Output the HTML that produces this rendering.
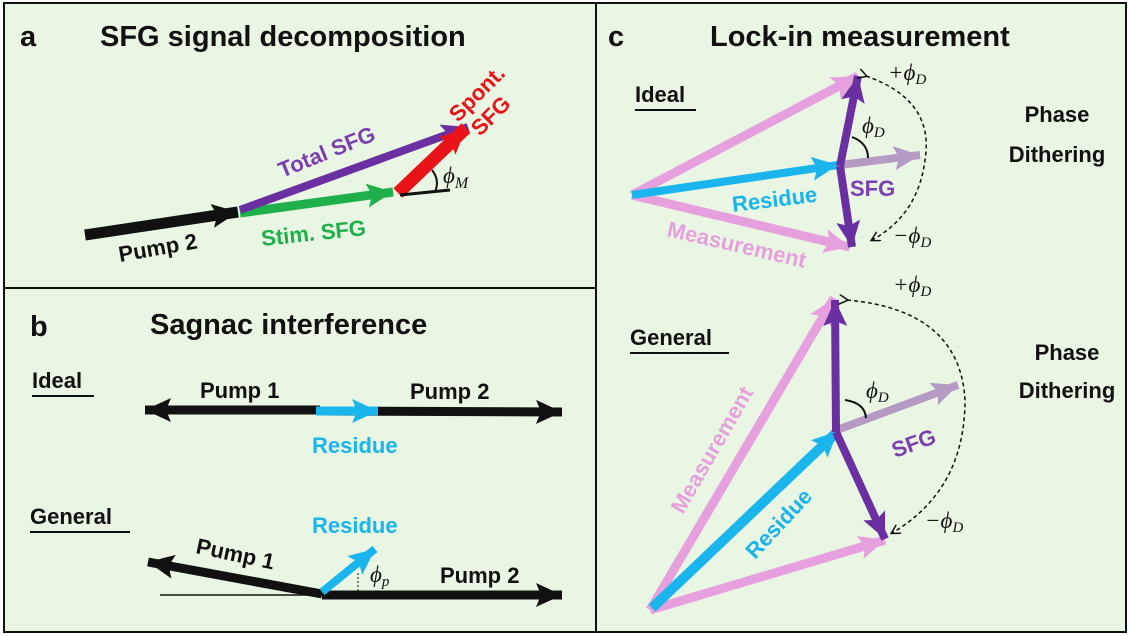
<!DOCTYPE html>
<html><head><meta charset="utf-8"><style>
html,body{margin:0;padding:0;background:#fff}
svg{display:block}
text{font-family:"Liberation Sans",sans-serif}
.t{font-size:29px;fill:#111;font-weight:bold}
.lb{font-size:22px;font-weight:bold}
.m{font-family:"Liberation Serif",serif;font-style:italic;font-size:23px;fill:#111}
</style></head><body>
<svg width="1130" height="636" viewBox="0 0 1130 636" xmlns="http://www.w3.org/2000/svg">
<defs>
<marker id="hk" markerUnits="userSpaceOnUse" markerWidth="34" markerHeight="34" refX="26" refY="12" orient="auto"><path d="M0,0 L26,12 L0,24 L5,12Z" fill="#111"/></marker>
<marker id="hg" markerUnits="userSpaceOnUse" markerWidth="34" markerHeight="34" refX="26" refY="12" orient="auto"><path d="M0,0 L26,12 L0,24 L5,12Z" fill="#1fb04c"/></marker>
<marker id="hp" markerUnits="userSpaceOnUse" markerWidth="34" markerHeight="34" refX="26" refY="12" orient="auto"><path d="M0,0 L26,12 L0,24 L5,12Z" fill="#6a2fa0"/></marker>
<marker id="hr" markerUnits="userSpaceOnUse" markerWidth="34" markerHeight="34" refX="26" refY="12" orient="auto"><path d="M0,0 L26,12 L0,24 L5,12Z" fill="#e8141a"/></marker>
<marker id="hc" markerUnits="userSpaceOnUse" markerWidth="34" markerHeight="34" refX="26" refY="12" orient="auto"><path d="M0,0 L26,12 L0,24 L5,12Z" fill="#19b5ec"/></marker>
<marker id="hpk" markerUnits="userSpaceOnUse" markerWidth="34" markerHeight="34" refX="26" refY="12" orient="auto"><path d="M0,0 L26,12 L0,24 L5,12Z" fill="#e7a0de"/></marker>
<marker id="hlp" markerUnits="userSpaceOnUse" markerWidth="34" markerHeight="34" refX="26" refY="12" orient="auto"><path d="M0,0 L26,12 L0,24 L5,12Z" fill="#b59ac4"/></marker>
<marker id="hd" markerUnits="userSpaceOnUse" markerWidth="12" markerHeight="12" refX="8" refY="5" orient="auto"><path d="M0,0 L9,5 L0,10" fill="none" stroke="#111" stroke-width="1.5"/></marker>
</defs>
<rect x="0" y="0" width="1130" height="636" fill="#fff"/>
<rect x="4" y="3" width="1122" height="629" fill="#eaf6e4" stroke="#111" stroke-width="2"/>
<line x1="596" y1="3" x2="596" y2="632" stroke="#111" stroke-width="2"/>
<line x1="4" y1="288" x2="596" y2="288" stroke="#111" stroke-width="2"/>

<!-- Panel a -->
<text x="20" y="46" class="t">a</text>
<text x="100" y="46" class="t">SFG signal decomposition</text>
<line x1="85" y1="235" x2="238" y2="212" stroke="#111" stroke-width="11" marker-end="url(#hk)"/>
<line x1="240" y1="213" x2="393" y2="192" stroke="#1fb04c" stroke-width="9" marker-end="url(#hg)"/>
<line x1="240" y1="210" x2="468" y2="127" stroke="#6a2fa0" stroke-width="8" marker-end="url(#hp)"/>
<line x1="398" y1="193" x2="466" y2="128" stroke="#e8141a" stroke-width="13" marker-end="url(#hr)"/>
<line x1="400" y1="195" x2="450" y2="190" stroke="#111" stroke-width="3"/>
<path d="M435,192 Q440,180 432,170" fill="none" stroke="#111" stroke-width="2"/>
<text x="443" y="183" class="m" font-size="24">ϕ<tspan font-size="16" dy="5">M</tspan></text>
<text transform="translate(120,262) rotate(-10)" class="lb" fill="#111">Pump 2</text>
<text transform="translate(282,178) rotate(-22)" class="lb" fill="#7b3fb0">Total SFG</text>
<text transform="translate(262,246) rotate(-6)" class="lb" fill="#1fb04c">Stim. SFG</text>
<text transform="translate(458,123) rotate(-45)" class="lb" fill="#e8141a">Spont.</text>
<text transform="translate(480,137) rotate(-45)" class="lb" fill="#e8141a">SFG</text>

<!-- Panel b -->
<text x="30" y="336" class="t">b</text>
<text x="150" y="334" class="t">Sagnac interference</text>
<text x="32" y="388" class="lb" fill="#111">Ideal</text>
<line x1="32" y1="396" x2="94" y2="396" stroke="#111" stroke-width="2"/>
<line x1="320" y1="410" x2="145" y2="410" stroke="#111" stroke-width="9" marker-end="url(#hk)"/>
<line x1="320" y1="411" x2="562" y2="412" stroke="#111" stroke-width="9" marker-end="url(#hk)"/>
<line x1="316" y1="411" x2="378" y2="411" stroke="#19b5ec" stroke-width="9" marker-end="url(#hc)"/>
<text x="200" y="398" class="lb" fill="#111">Pump 1</text>
<text x="410" y="399" class="lb" fill="#111">Pump 2</text>
<text x="312" y="453" class="lb" fill="#19b5ec">Residue</text>
<text x="30" y="524" class="lb" fill="#111">General</text>
<line x1="30" y1="532" x2="130" y2="532" stroke="#111" stroke-width="2"/>
<line x1="160" y1="595" x2="540" y2="595" stroke="#111" stroke-width="1.5"/>
<line x1="322" y1="594" x2="148" y2="562" stroke="#111" stroke-width="9" marker-end="url(#hk)"/>
<line x1="322" y1="595" x2="562" y2="595" stroke="#111" stroke-width="9" marker-end="url(#hk)"/>
<line x1="322" y1="592" x2="375" y2="549" stroke="#19b5ec" stroke-width="8" marker-end="url(#hc)"/>
<line x1="358" y1="573" x2="358" y2="592" stroke="#111" stroke-width="1" stroke-dasharray="2,2"/>
<text transform="translate(195,553) rotate(12)" class="lb" fill="#111">Pump 1</text>
<text x="440" y="583" class="lb" fill="#111">Pump 2</text>
<text x="312" y="533" class="lb" fill="#19b5ec">Residue</text>
<text x="370" y="582" class="m">ϕ<tspan font-size="15" dy="4">p</tspan></text>

<!-- Panel c -->
<text x="608" y="46" class="t">c</text>
<text x="710" y="46" class="t">Lock-in measurement</text>
<text x="635" y="102" class="lb" fill="#111">Ideal</text>
<line x1="635" y1="110" x2="696" y2="110" stroke="#111" stroke-width="2"/>
<line x1="632" y1="195" x2="858" y2="76" stroke="#e7a0de" stroke-width="9" marker-end="url(#hpk)"/>
<line x1="632" y1="195" x2="850" y2="247" stroke="#e7a0de" stroke-width="9" marker-end="url(#hpk)"/>
<line x1="840" y1="165" x2="920" y2="155" stroke="#b59ac4" stroke-width="8" marker-end="url(#hlp)"/>
<line x1="632" y1="195" x2="838" y2="165" stroke="#19b5ec" stroke-width="8" marker-end="url(#hc)"/>
<line x1="840" y1="166" x2="858" y2="76" stroke="#6a2fa0" stroke-width="8" marker-end="url(#hp)"/>
<line x1="840" y1="166" x2="852" y2="247" stroke="#6a2fa0" stroke-width="8" marker-end="url(#hp)"/>
<path d="M866,76 Q935,100 925,160 Q918,215 872,240" fill="none" stroke="#111" stroke-width="1.5" stroke-dasharray="4,3" marker-start="url(#hd)" marker-end="url(#hd)"/>
<path d="M852,137 Q868,143 868,158" fill="none" stroke="#111" stroke-width="2"/>
<text x="888" y="80" class="m">+ϕ<tspan font-size="15" dy="4">D</tspan></text>
<text x="862" y="133" class="m">ϕ<tspan font-size="15" dy="4">D</tspan></text>
<text x="893" y="243" class="m">−ϕ<tspan font-size="15" dy="4">D</tspan></text>
<text x="1057" y="122" class="lb" fill="#111" text-anchor="middle" font-size="25">Phase</text>
<text x="1057" y="162" class="lb" fill="#111" text-anchor="middle" font-size="25">Dithering</text>
<text transform="translate(733,212) rotate(-7)" class="lb" fill="#19b5ec" font-size="24">Residue</text>
<text x="850" y="196" class="lb" fill="#7b3fb0" font-size="24">SFG</text>
<text transform="translate(666,236) rotate(13)" class="lb" fill="#e7a0de" font-size="24">Measurement</text>

<text x="630" y="345" class="lb" fill="#111">General</text>
<line x1="630" y1="353" x2="729" y2="353" stroke="#111" stroke-width="2"/>
<line x1="650" y1="610" x2="834" y2="298" stroke="#e7a0de" stroke-width="9" marker-end="url(#hpk)"/>
<line x1="650" y1="610" x2="885" y2="540" stroke="#e7a0de" stroke-width="9" marker-end="url(#hpk)"/>
<line x1="837" y1="430" x2="958" y2="385" stroke="#b59ac4" stroke-width="8" marker-end="url(#hlp)"/>
<line x1="652" y1="608" x2="838" y2="431" stroke="#19b5ec" stroke-width="10" marker-end="url(#hc)"/>
<line x1="836" y1="432" x2="835" y2="300" stroke="#6a2fa0" stroke-width="8" marker-end="url(#hp)"/>
<line x1="836" y1="432" x2="885" y2="539" stroke="#6a2fa0" stroke-width="8" marker-end="url(#hp)"/>
<path d="M847,300 Q960,310 965,400 Q965,490 892,533" fill="none" stroke="#111" stroke-width="1.5" stroke-dasharray="4,3" marker-start="url(#hd)" marker-end="url(#hd)"/>
<path d="M845,400 Q865,403 866,418" fill="none" stroke="#111" stroke-width="2"/>
<text x="893" y="292" class="m">+ϕ<tspan font-size="15" dy="4">D</tspan></text>
<text x="866" y="398" class="m">ϕ<tspan font-size="15" dy="4">D</tspan></text>
<text x="925" y="528" class="m">−ϕ<tspan font-size="15" dy="4">D</tspan></text>
<text x="1067" y="360" class="lb" fill="#111" text-anchor="middle" font-size="25">Phase</text>
<text x="1067" y="398" class="lb" fill="#111" text-anchor="middle" font-size="25">Dithering</text>
<text transform="translate(895,458) rotate(-20)" class="lb" fill="#7b3fb0" font-size="24">SFG</text>
<text transform="translate(755,560) rotate(-47)" class="lb" fill="#19b5ec" font-size="24">Residue</text>
<text transform="translate(683,515) rotate(-60)" class="lb" fill="#e7a0de" font-size="24">Measurement</text>
</svg>
</body></html>
